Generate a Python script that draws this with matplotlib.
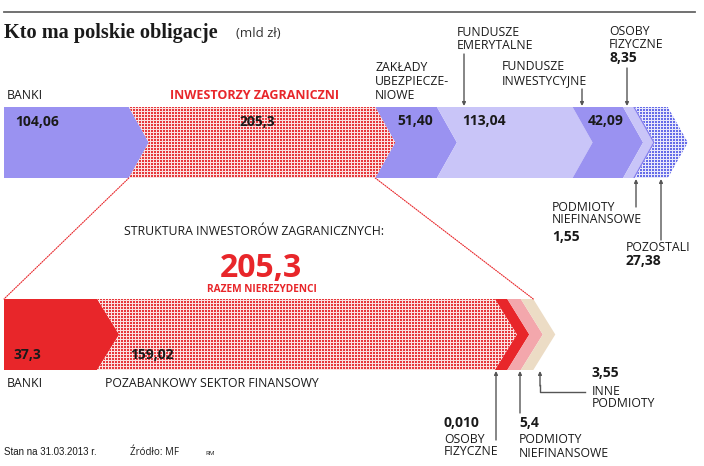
import matplotlib
matplotlib.use("Agg")
import matplotlib.pyplot as plt
import matplotlib.colors as mcolors
from matplotlib.patches import Polygon, ConnectionPatch
import numpy as np

# who holds Polish treasury bonds (mld zl), 31.03.2013
top_names = ["BANKI", "INWESTORZY ZAGRANICZNI", "ZAKŁADY UBEZPIECZENIOWE",
             "FUNDUSZE EMERYTALNE", "FUNDUSZE INWESTYCYJNE", "OSOBY FIZYCZNE",
             "PODMIOTY NIEFINANSOWE", "POZOSTALI"]
top_values = [104.06, 205.3, 51.40, 113.04, 42.09, 8.35, 1.55, 27.38]
top_labels = ["104,06", "205,3", "51,40", "113,04", "42,09", "8,35", "1,55", "27,38"]
top_colors = ["#9a92f1", "#e6383c", "#9a92f1", "#c9c5f8", "#9a92f1", "#c9c5f8", "#8780ee", "#666ce8"]
top_dotted = [False, True, False, False, False, False, False, True]

# structure of foreign investors
foreign_names = ["BANKI", "POZABANKOWY SEKTOR FINANSOWY", "OSOBY FIZYCZNE",
                 "PODMIOTY NIEFINANSOWE", "INNE PODMIOTY"]
foreign_values = [37.3, 159.02, 0.010, 5.4, 3.55]
foreign_labels = ["37,3", "159,02", "0,010", "5,4", "3,55"]
foreign_colors = ["#e8262a", "#e6383c", "#e8262a", "#f3a7ac", "#ecdcc5"]
foreign_dotted = [False, True, False, False, False]
foreign_total = "205,3"

W, H = 704, 466
fig = plt.figure(figsize=(W / 100, H / 100), dpi=100)
fig.patch.set_facecolor("white")

SANS = "Open Sans"
DARK = "#1a1a1a"
RED = "#e8262a"
GREY = "#555555"


def dot_pattern(color):
    # small square dots on a pale tint of the same colour, 3 px period
    yy, xx = np.mgrid[0:H, 0:W]
    mask = (yy % 3 != 0) & (xx % 3 != 0)
    rgb = np.array(mcolors.to_rgb(color))
    img = np.ones((H, W, 4))
    img[..., :3] = 1 - 0.15 * (1 - rgb)
    img[mask, :3] = rgb
    return img


def chevron_bar(ax, values, colors, dotted, tip, min_w=0.0):
    left = 0.0
    edges = []
    for i, (v, c, d) in enumerate(zip(values, colors, dotted)):
        right = left + max(v, min_w)
        pts = [(left, 1), (right, 1), (right + tip, 0.5), (right, 0), (left, 0)]
        if i > 0:
            pts.append((left + tip, 0.5))
        poly = Polygon(pts, closed=True, facecolor="white" if d else c,
                       edgecolor="none")
        ax.add_patch(poly)
        if d:
            im = fig.figimage(dot_pattern(c), zorder=1)
            im.set_clip_path(poly)
        edges.append((left, right))
        left = right
    return edges


# top bar, 1.2 px per mld zl
ax_top = fig.add_axes([4 / W, 1 - 178 / H, 700 / W, 71 / H], zorder=0)
ax_top.set_xlim(0, 700 / 1.2)
ax_top.set_ylim(0, 1)
ax_top.axis("off")
top_edges = chevron_bar(ax_top, top_values, top_colors, top_dotted, 20 / 1.2)

# bottom bar, 2.5 px per mld zl (tiny shares get a visible minimum width)
ax_bot = fig.add_axes([4 / W, 1 - 370 / H, 700 / W, 71 / H], zorder=0)
ax_bot.set_xlim(0, 700 / 2.5)
ax_bot.set_ylim(0, 1)
ax_bot.axis("off")
bot_edges = chevron_bar(ax_bot, foreign_values, foreign_colors, foreign_dotted, 22 / 2.5,
                        min_w=5.0)

# dotted zoom lines between the two bars
for xa, xb in [(top_edges[1][0], bot_edges[0][0]), (top_edges[1][1], bot_edges[-1][1])]:
    con = ConnectionPatch(xyA=(xa, 0), coordsA=ax_top.transData,
                          xyB=(xb, 1), coordsB=ax_bot.transData,
                          color=RED, lw=0.8, linestyle=(0, (1, 1.2)))
    fig.add_artist(con)

# overlay for texts, in pixel coordinates
ax = fig.add_axes([0, 0, 1, 1], zorder=2)
ax.set_xlim(0, W)
ax.set_ylim(H, 0)
ax.axis("off")

ax.plot([4, 695], [12, 12], color="#666666", lw=1.3)
ax.text(4, 38, "Kto ma polskie obligacje", family="Liberation Serif",
        weight="bold", fontsize=14.6, color=DARK)
ax.text(236, 37, "(mld zł)", family=SANS, fontsize=9.5, color="#333333")


def lbl(x, y, s, **kw):
    kw.setdefault("family", SANS)
    kw.setdefault("fontsize", 8.8)
    kw.setdefault("color", DARK)
    ax.text(x, y, s, va="baseline", **kw)


def val(x, y, s, **kw):
    lbl(x, y, s, weight="bold", fontsize=10, **kw)


def arrow(x, y0, y1):
    ax.annotate("", xy=(x, y1), xytext=(x, y0),
                arrowprops=dict(arrowstyle="-|>", color=GREY, lw=1.0,
                                mutation_scale=5, shrinkA=0, shrinkB=0))


# top bar labels
lbl(7, 99, top_names[0])
lbl(255, 99, top_names[1], color=RED, weight="bold", ha="center", fontsize=9)
val(15, 126, top_labels[0])
val(257, 126, top_labels[1], ha="center")
lbl(375, 71, "ZAKŁADY")
lbl(375, 85, "UBEZPIECZE-")
lbl(375, 99, "NIOWE")
val(397, 125, top_labels[2])
val(462, 125, top_labels[3])
val(588, 125, top_labels[4])
lbl(457, 36, "FUNDUSZE")
lbl(457, 49, "EMERYTALNE")
arrow(464, 54, 106)
lbl(502, 70, "FUNDUSZE")
lbl(502, 84, "INWESTYCYJNE")
arrow(582, 89, 106)
lbl(609, 35, "OSOBY")
lbl(609, 48, "FIZYCZNE")
val(609, 62, top_labels[5])
arrow(627, 68, 106)
lbl(552, 211, "PODMIOTY")
lbl(552, 223, "NIEFINANSOWE")
val(552, 241, top_labels[6])
arrow(636, 207, 179)
lbl(626, 251, top_names[7])
val(626, 265, top_labels[7])
arrow(661, 240, 179)

# foreign investors section
lbl(124, 235, "STRUKTURA INWESTORÓW ZAGRANICZNYCH:")
lbl(261, 277, foreign_total, ha="center", weight="bold", fontsize=23, color=RED)
lbl(262, 292, "RAZEM NIEREZYDENCI", ha="center", weight="bold", fontsize=7.3, color=RED)
val(14, 359, foreign_labels[0])
val(130, 359, foreign_labels[1])
lbl(7, 387, foreign_names[0])
lbl(105, 387, foreign_names[1])

val(444, 427, foreign_labels[2])
lbl(444, 443, "OSOBY")
lbl(444, 455, "FIZYCZNE")
arrow(496, 440, 371)
val(519, 427, foreign_labels[3])
lbl(519, 443, "PODMIOTY")
lbl(519, 457, "NIEFINANSOWE")
arrow(520, 413, 371)
val(592, 377, foreign_labels[4])
lbl(592, 395, "INNE")
lbl(592, 407, "PODMIOTY")
ax.plot([540, 540, 585], [385, 392, 392], color=GREY, lw=1.0)
arrow(540, 386, 371)

# footer
lbl(4, 455, "Stan na 31.03.2013 r.", fontsize=7, family="Liberation Sans")
lbl(130, 455, "Źródło: MF", fontsize=7)
lbl(205, 455, "RM", fontsize=4.5)

fig.savefig("out.png", dpi=100)
